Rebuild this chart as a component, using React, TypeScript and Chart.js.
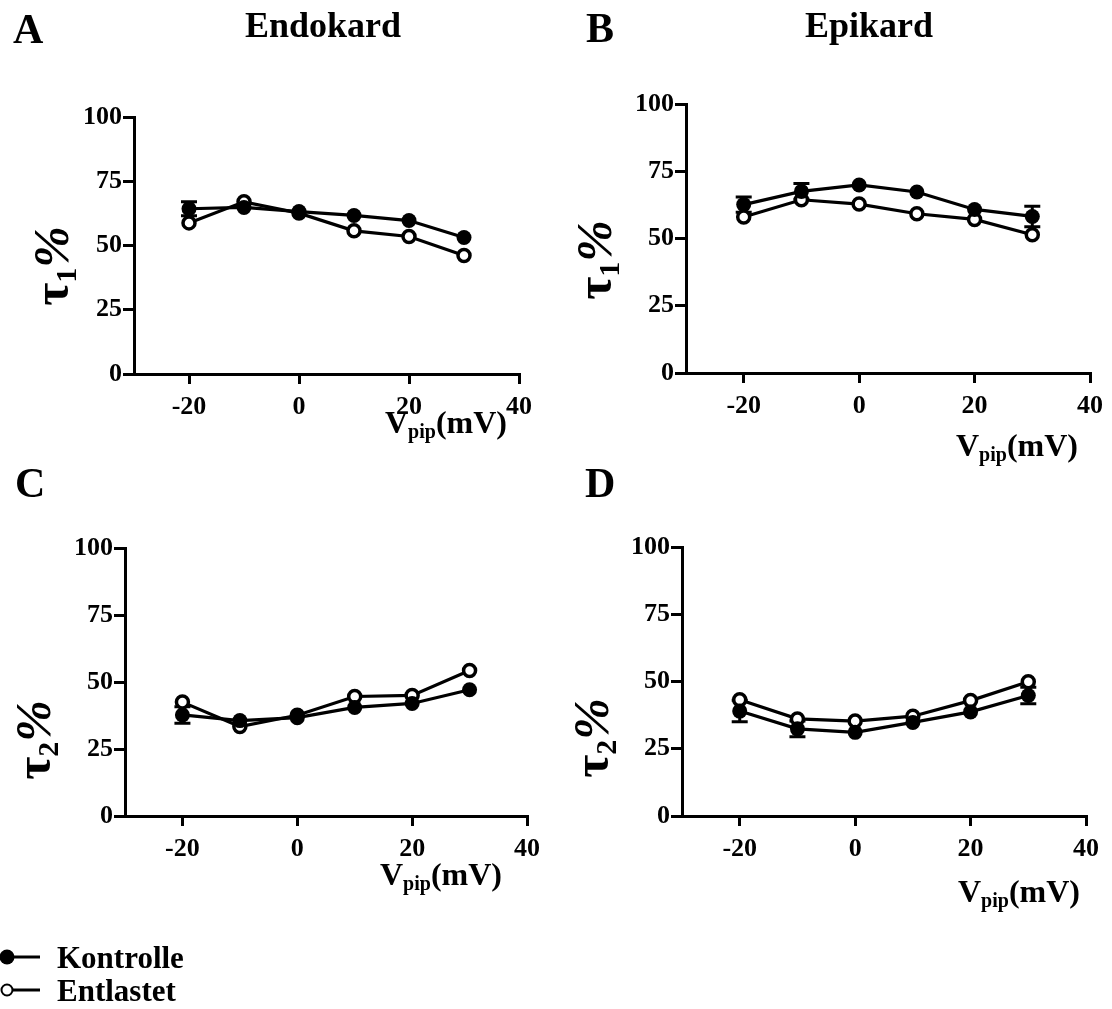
import React, { useEffect, useRef } from 'react';
import { Chart, registerables } from 'chart.js';

Chart.register(...registerables);

// ---------- data ----------
const xValues = [-20, -10, 0, 10, 20, 30];
const xTickValues = [-20, 0, 20, 40];
const yTickValues = [0, 25, 50, 75, 100];

// Panel A: Endokard, tau1 %
const endoTau1Kontrolle = [64.3, 64.8, 63.2, 61.7, 59.7, 53.1];
const endoTau1KontrolleErr = [2.7, 0, 0, 0, 0, 0];
const endoTau1Entlastet = [58.8, 67.0, 62.6, 55.7, 53.5, 46.1];

// Panel B: Epikard, tau1 %
const epiTau1Kontrolle = [62.6, 67.5, 69.9, 67.3, 60.8, 58.2];
const epiTau1KontrolleErr = [2.8, 2.9, 0, 0, 0, 3.8];
const epiTau1Entlastet = [58.0, 64.4, 62.8, 59.2, 57.1, 51.4];

// Panel C: Endokard, tau2 %
const endoTau2Kontrolle = [37.7, 35.6, 36.7, 40.5, 42.0, 47.1];
const endoTau2KontrolleErr = [3.1, 0, 0, 0, 0, 0];
const endoTau2Entlastet = [42.5, 33.4, 37.6, 44.6, 45.0, 54.3];

// Panel D: Epikard, tau2 %
const epiTau2Kontrolle = [39.0, 32.4, 31.1, 34.8, 38.7, 44.8];
const epiTau2KontrolleErr = [4.0, 2.9, 0, 0, 0, 3.1];
const epiTau2Entlastet = [43.2, 36.1, 35.3, 37.1, 42.9, 49.9];

const seriesNames = ['Kontrolle', 'Entlastet'];

// ---------- layout ----------
const FONT = "'Liberation Serif', 'Times New Roman', serif";
const YW = 80; // y-axis box width
const XH = 45; // x-axis box height
const PT = 20; // top padding
const PR = 30; // right padding

type Geo = { L: number; R: number; T: number; B: number };

function makeErrorPlugin(errs: number[]) {
  return {
    id: 'errorBars',
    beforeDatasetsDraw(chart: any) {
      const { ctx, scales } = chart;
      const xs = scales.x;
      const ys = scales.y;
      const data = chart.data.datasets[0].data as { x: number; y: number }[];
      ctx.save();
      ctx.strokeStyle = '#000';
      ctx.lineWidth = 3;
      data.forEach((p, i) => {
        const e = errs[i];
        if (!e) return;
        const px = xs.getPixelForValue(p.x);
        const yTop = ys.getPixelForValue(p.y + e);
        const yBot = ys.getPixelForValue(p.y - e);
        ctx.beginPath();
        ctx.moveTo(px, yTop);
        ctx.lineTo(px, yBot);
        ctx.moveTo(px - 8, yTop);
        ctx.lineTo(px + 8, yTop);
        ctx.moveTo(px - 8, yBot);
        ctx.lineTo(px + 8, yBot);
        ctx.stroke();
      });
      ctx.restore();
    },
  };
}

function Panel({ geo, kontrolle, kontrolleErr, entlastet }: { geo: Geo; kontrolle: number[]; kontrolleErr: number[]; entlastet: number[] }) {
  const ref = useRef<HTMLCanvasElement>(null);
  const left = geo.L - YW;
  const top = geo.T - PT;
  const width = geo.R + PR - left;
  const height = geo.B + XH - top;

  useEffect(() => {
    const tickFont = { family: FONT, size: 26, weight: 'bold' as const };
    const chart = new Chart(ref.current as HTMLCanvasElement, {
      type: 'line',
      data: {
        datasets: [
          {
            label: seriesNames[0],
            data: xValues.map((x, i) => ({ x, y: kontrolle[i] })),
            borderColor: '#000',
            borderWidth: 3.2,
            pointRadius: 7.5,
            pointBackgroundColor: '#000',
            pointBorderColor: '#000',
            pointBorderWidth: 0,
            tension: 0,
            fill: false,
          },
          {
            label: seriesNames[1],
            data: xValues.map((x, i) => ({ x, y: entlastet[i] })),
            borderColor: '#000',
            borderWidth: 3.2,
            pointRadius: 6,
            pointBackgroundColor: '#fff',
            pointBorderColor: '#000',
            pointBorderWidth: 3.5,
            tension: 0,
            fill: false,
          },
        ],
      },
      options: {
        animation: false,
        responsive: false,
        events: [],
        layout: { padding: { left: 0, top: PT, right: PR, bottom: 0 } },
        plugins: { legend: { display: false }, tooltip: { enabled: false } },
        scales: {
          x: {
            type: 'linear',
            min: -30,
            max: 40,
            afterBuildTicks: (s: any) => {
              s.ticks = xTickValues.map((v) => ({ value: v }));
            },
            afterFit: (s: any) => {
              s.height = XH;
            },
            grid: { display: true, drawOnChartArea: false, drawTicks: true, tickLength: 10, color: '#000', lineWidth: 3 },
            border: { display: true, color: '#000', width: 3 },
            ticks: {
              color: '#000',
              font: tickFont,
              padding: 8,
              maxRotation: 0,
              autoSkip: false,
              callback: (v: any) => String(v),
            },
          },
          y: {
            type: 'linear',
            min: 0,
            max: 100,
            afterBuildTicks: (s: any) => {
              s.ticks = yTickValues.map((v) => ({ value: v }));
            },
            afterFit: (s: any) => {
              s.width = YW;
            },
            grid: { display: true, drawOnChartArea: false, drawTicks: true, tickLength: 11, color: '#000', lineWidth: 3 },
            border: { display: true, color: '#000', width: 3 },
            ticks: {
              color: '#000',
              font: tickFont,
              padding: 1,
              autoSkip: false,
              callback: (v: any) => String(v),
            },
          },
        },
      },
      plugins: [makeErrorPlugin(kontrolleErr)],
    } as any);
    return () => chart.destroy();
  }, []);

  return (
    <canvas
      ref={ref}
      width={width}
      height={height}
      style={{ position: 'absolute', left, top, width, height }}
    />
  );
}

function XLabel({ cx, y }: { cx: number; y: number }) {
  return (
    <text x={cx} y={y} fontSize={32} textAnchor="middle">
      V
      <tspan fontSize={20} dy={5}>pip</tspan>
      <tspan dy={-5}>(mV)</tspan>
    </text>
  );
}

function YLabel({ x, cy, sub }: { x: number; cy: number; sub: string }) {
  return (
    <text transform={`translate(${x},${cy}) rotate(-90)`} fontSize={50} textAnchor="middle">
      τ
      <tspan fontSize={30} dy={8}>{sub}</tspan>
      <tspan dy={-8} fontStyle="italic">%</tspan>
    </text>
  );
}

export default function App() {
  return (
    <div style={{ position: 'absolute', left: 0, top: 0, width: 1112, height: 1009, background: '#fff', overflow: 'hidden' }}>
      <Panel geo={{ L: 134, R: 519, T: 117, B: 374 }} kontrolle={endoTau1Kontrolle} kontrolleErr={endoTau1KontrolleErr} entlastet={endoTau1Entlastet} />
      <Panel geo={{ L: 686, R: 1090, T: 104, B: 373 }} kontrolle={epiTau1Kontrolle} kontrolleErr={epiTau1KontrolleErr} entlastet={epiTau1Entlastet} />
      <Panel geo={{ L: 125, R: 527, T: 548, B: 816 }} kontrolle={endoTau2Kontrolle} kontrolleErr={endoTau2KontrolleErr} entlastet={endoTau2Entlastet} />
      <Panel geo={{ L: 682, R: 1086, T: 547, B: 816 }} kontrolle={epiTau2Kontrolle} kontrolleErr={epiTau2KontrolleErr} entlastet={epiTau2Entlastet} />
      <svg
        width={1112}
        height={1009}
        style={{ position: 'absolute', left: 0, top: 0, pointerEvents: 'none' }}
        fontFamily={FONT}
        fontWeight="bold"
        fill="#000"
      >
        <text x={13} y={43} fontSize={42}>A</text>
        <text x={323} y={37} fontSize={36} textAnchor="middle">Endokard</text>
        <text x={586} y={42} fontSize={42}>B</text>
        <text x={869} y={37} fontSize={36} textAnchor="middle">Epikard</text>
        <text x={15} y={497} fontSize={42}>C</text>
        <text x={585} y={497} fontSize={42}>D</text>

        <XLabel cx={446} y={433} />
        <XLabel cx={1017} y={456} />
        <XLabel cx={441} y={885} />
        <XLabel cx={1019} y={902} />

        <YLabel x={68} cy={266} sub="1" />
        <YLabel x={611} cy={260} sub="1" />
        <YLabel x={50} cy={740} sub="2" />
        <YLabel x={608} cy={738} sub="2" />

        <circle cx={7} cy={957} r={7.5} fill="#000" />
        <line x1={12} y1={957} x2={40} y2={957} stroke="#000" strokeWidth={3} />
        <text x={57} y={968} fontSize={31}>{seriesNames[0]}</text>
        <circle cx={7} cy={990} r={5.5} fill="#fff" stroke="#000" strokeWidth={2} />
        <line x1={13} y1={990} x2={40} y2={990} stroke="#000" strokeWidth={3} />
        <text x={57} y={1001} fontSize={31}>{seriesNames[1]}</text>
      </svg>
    </div>
  );
}
